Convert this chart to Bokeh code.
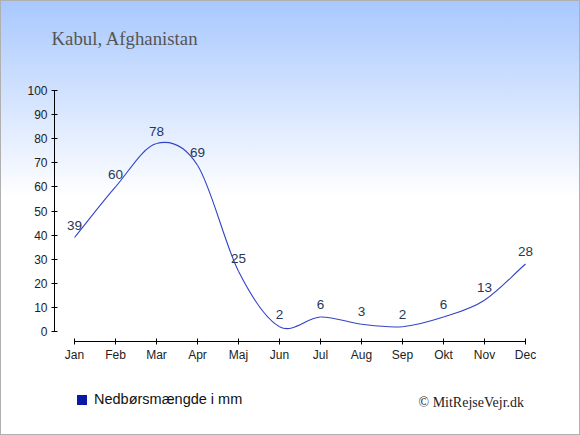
import numpy as np
from bokeh.plotting import figure
from bokeh.models import (FixedTicker, LabelSet, Label, ColumnDataSource, Legend,
                          LegendItem, Range1d)
from bokeh.embed import file_html
from bokeh.resources import INLINE
from bokeh.core.properties import value

# ---- data ----
title_text = "Kabul, Afghanistan"
months = ["Jan", "Feb", "Mar", "Apr", "Maj", "Jun", "Jul", "Aug", "Sep", "Okt", "Nov", "Dec"]
precip_mm = [39, 60, 78, 69, 25, 2, 6, 3, 2, 6, 13, 28]
y_ticks = [0, 10, 20, 30, 40, 50, 60, 70, 80, 90, 100]
series_name = "Nedbørsmængde i mm"
credit_text = "© MitRejseVejr.dk"

W, H = 580, 435
PX_X = 41.0      # pixels per month
PX_Y = 2.41      # pixels per mm
X0, Y0 = 74, 331  # pixel position of (Jan, 0)

# ---- figure: frame covers whole canvas, axes placed with fixed_location ----
p = figure(width=W, height=H, output_backend="svg", toolbar_location=None,
           x_range=Range1d(-X0 / PX_X, (W - X0) / PX_X),
           y_range=Range1d(-(H - Y0) / PX_Y, Y0 / PX_Y),
           min_border=0)
p.background_fill_alpha = 0
p.border_fill_alpha = 0
p.outline_line_color = None
p.xgrid.visible = False
p.ygrid.visible = False
p.styles = {
    "background": "linear-gradient(to bottom, #a8c8fe 0px, #ffffff 198px)",
    "box-shadow": "inset 0 0 0 1px #b0b0b0",
}

# smooth curve (cubic bezier segments through the data points)
xs = np.arange(len(precip_mm), dtype=float)
ys = np.array(precip_mm, dtype=float)
m = np.empty_like(ys)
m[1:-1] = (ys[2:] - ys[:-2]) / 2.0
m[0] = ys[1] - ys[0]
m[-1] = ys[-1] - ys[-2]
seg = ColumnDataSource(dict(
    x0=xs[:-1], y0=ys[:-1], x1=xs[1:], y1=ys[1:],
    cx0=xs[:-1] + 1 / 3, cy0=ys[:-1] + m[:-1] / 3,
    cx1=xs[1:] - 1 / 3, cy1=ys[1:] - m[1:] / 3,
))
p.bezier(x0="x0", y0="y0", x1="x1", y1="y1", cx0="cx0", cy0="cy0",
         cx1="cx1", cy1="cy1", source=seg, line_color="#3343c8", line_width=1.1)

# invisible point markers used for the legend swatch
pts = ColumnDataSource(dict(x=xs, y=ys))
swatch = p.scatter(x="x", y="y", source=pts, marker="square", size=0,
                   fill_color="#0a1aa8", line_color=None)

# value labels
lab_src = ColumnDataSource(dict(x=xs, y=ys, t=[str(v) for v in precip_mm]))
p.add_layout(LabelSet(x="x", y="y", text="t", source=lab_src, y_offset=8,
                      text_align="center", text_baseline="alphabetic",
                      text_font=value("Liberation Sans"), text_font_size="13.5px",
                      text_color="#26375a"))

# axes
for ax in (p.xaxis[0], p.yaxis[0]):
    ax.axis_line_color = "black"
    ax.major_tick_line_color = "black"
    ax.minor_tick_line_color = None
    ax.major_tick_in = 3
    ax.major_tick_out = 3
    ax.major_label_text_font = "Liberation Sans"
    ax.major_label_text_font_size = "12px"
    ax.major_label_text_color = "#222222"
p.xaxis.ticker = FixedTicker(ticks=list(range(len(months))))
p.xaxis.major_label_overrides = {i: mth for i, mth in enumerate(months)}
p.xaxis.bounds = (0, len(months) - 1)
p.xaxis.major_label_standoff = 3
p.xaxis.fixed_location = -10 / PX_Y          # axis line 10 px below the zero level
p.yaxis.ticker = FixedTicker(ticks=y_ticks)
p.yaxis.bounds = (0, 100)
p.yaxis.major_label_standoff = 4
p.yaxis.fixed_location = -20 / PX_X          # axis line 20 px left of January

# legend
legend = Legend(items=[LegendItem(label=series_name, renderers=[swatch])],
                location=(69, 23.5), border_line_color=None, background_fill_alpha=0,
                padding=0, margin=0, glyph_width=25, glyph_height=25,
                label_standoff=0, label_text_font="Liberation Sans",
                label_text_font_size="14.5px", label_text_color="#111111")
p.add_layout(legend)

# title and credit
p.add_layout(Label(x=51, y=H - 38, x_units="screen", y_units="screen", text=title_text,
                   text_font="Liberation Serif", text_font_size="18.8px",
                   text_color="#555555", text_baseline="alphabetic"))
p.add_layout(Label(x=418, y=H - 401.5, x_units="screen", y_units="screen",
                   text=credit_text, text_font="Liberation Serif",
                   text_font_size="14px", text_color="#222222",
                   text_baseline="alphabetic"))

open("out.html", "w").write(file_html(p, INLINE))
